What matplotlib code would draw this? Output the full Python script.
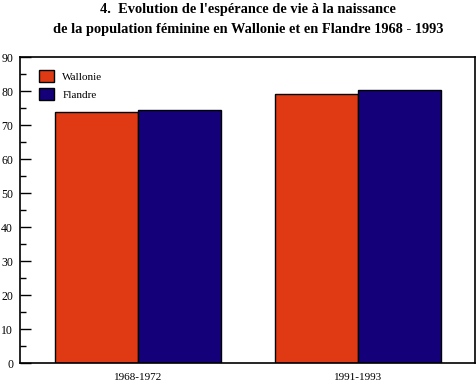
import matplotlib
matplotlib.use("Agg")
import matplotlib.pyplot as plt
import numpy as np
from matplotlib.ticker import MultipleLocator

categories = ["1968-1972", "1991-1993"]
series_names = ["Wallonie", "Flandre"]
wallonie = [73.8, 79.0]
flandre = [74.4, 80.2]
colors = ["#E03A14", "#140078"]

plt.rcParams['font.family'] = ['Liberation Serif', 'DejaVu Serif']

fig = plt.figure(figsize=(4.76, 3.81), dpi=100)
W, H = 476, 381
ax = fig.add_axes([20 / W, 1 - 363 / H, 455 / W, (363 - 57) / H])

x = np.arange(len(categories))
bw = 0.377
ax.bar(x - bw / 2, wallonie, bw, color=colors[0], edgecolor="black", linewidth=1, label=series_names[0])
ax.bar(x + bw / 2, flandre, bw, color=colors[1], edgecolor="black", linewidth=1, label=series_names[1])

ax.set_xlim(-0.536, 1.532)
ax.set_ylim(0, 90)
ax.set_xticks(x)
ax.set_xticklabels(categories, fontsize=8)
ax.tick_params(axis='x', length=0, pad=7)
ax.yaxis.set_major_locator(MultipleLocator(10))
ax.yaxis.set_minor_locator(MultipleLocator(5))
ax.tick_params(axis='y', which='major', direction='in', length=8, width=1, labelsize=8.5, pad=5)
ax.tick_params(axis='y', which='minor', direction='in', length=4, width=1)
for s in ax.spines.values():
    s.set_linewidth(1.2)

leg = ax.legend(loc='upper left', bbox_to_anchor=(0.02, 0.99), frameon=False, fontsize=8,
                handlelength=1.3, handleheight=1.3, handletextpad=0.8, labelspacing=0.5)

fig.text(248 / W, 1 - 10 / H, "4.  Evolution de l'espérance de vie à la naissance",
         ha='center', va='center', fontsize=10.4, fontweight='bold')
fig.text(248 / W, 1 - 29 / H, "de la population féminine en Wallonie et en Flandre 1968 - 1993",
         ha='center', va='center', fontsize=10.4, fontweight='bold')

fig.savefig("out.png", dpi=100)
